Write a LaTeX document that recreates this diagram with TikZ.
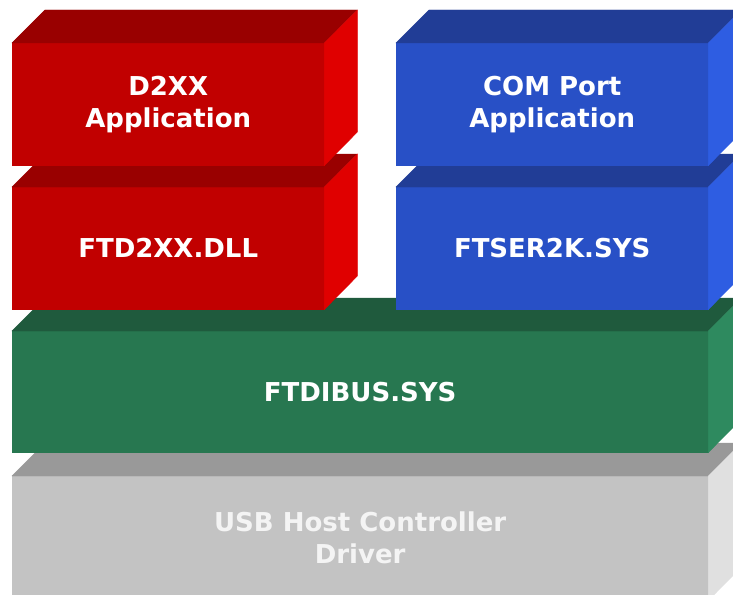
\documentclass[tikz,border=0pt]{standalone}
\usepackage{fontspec}
\setmainfont{DejaVu Sans}
\definecolor{redF}{HTML}{C10000}
\definecolor{redT}{HTML}{990000}
\definecolor{redR}{HTML}{E00000}
\definecolor{bluF}{HTML}{2850C6}
\definecolor{bluT}{HTML}{213D96}
\definecolor{bluR}{HTML}{2E5DE2}
\definecolor{grnF}{HTML}{277750}
\definecolor{grnT}{HTML}{1F5A3D}
\definecolor{grnR}{HTML}{2E8A5F}
\definecolor{gryF}{HTML}{C3C3C3}
\definecolor{gryT}{HTML}{999999}
\definecolor{gryR}{HTML}{E0E0E0}
\newcommand\layerbox[9]{%
  \fill[#7, draw=#7, line width=0.4pt] (#1.north west) -- ++(33,-33) -- ++(#4,0) -- (#1.north east) -- cycle;
  \fill[#8, draw=#8, line width=0.4pt] (#1.north east) -- ++(33,-33) -- ++(0,#5) -- (#1.south east) -- cycle;
}
\begin{document}
\begin{tikzpicture}[x=1pt,y=-1pt,
  face/.style={rectangle, inner sep=0pt, anchor=north west, text=white, align=center,
    line width=0.4pt, font=\bfseries\fontsize{26}{32}\selectfont}]
\useasboundingbox (0,0) rectangle (733,594);
\clip (0,0) rectangle (733,594);
\fill[white] (0,0) rectangle (733,594);
\node[face, fill=gryF, draw=gryF, minimum width=696pt, minimum height=124pt] (usb) at (12,476) {\color[HTML]{F4F4F4}USB Host Controller\\\color[HTML]{F4F4F4}Driver};
\layerbox{usb}{12}{476}{696}{124}{gryF}{gryT}{gryR}{}
\node[face, fill=grnF, draw=grnF, minimum width=696pt, minimum height=121pt] (bus) at (12,331) {FTDIBUS.SYS};
\layerbox{bus}{12}{331}{696}{121}{grnF}{grnT}{grnR}{}
\node[face, fill=redF, draw=redF, minimum width=312pt, minimum height=122pt] (dll) at (12,187) {FTD2XX.DLL};
\layerbox{dll}{12}{187}{312}{122}{redF}{redT}{redR}{}
\node[face, fill=bluF, draw=bluF, minimum width=312pt, minimum height=122pt] (ser) at (396,187) {FTSER2K.SYS};
\layerbox{ser}{396}{187}{312}{122}{bluF}{bluT}{bluR}{}
\node[face, fill=redF, draw=redF, minimum width=312pt, minimum height=122pt] (dapp) at (12,43) {D2XX\\Application};
\layerbox{dapp}{12}{43}{312}{122}{redF}{redT}{redR}{}
\node[face, fill=bluF, draw=bluF, minimum width=312pt, minimum height=122pt] (capp) at (396,43) {COM Port\\Application};
\layerbox{capp}{396}{43}{312}{122}{bluF}{bluT}{bluR}{}
\end{tikzpicture}
\end{document}
